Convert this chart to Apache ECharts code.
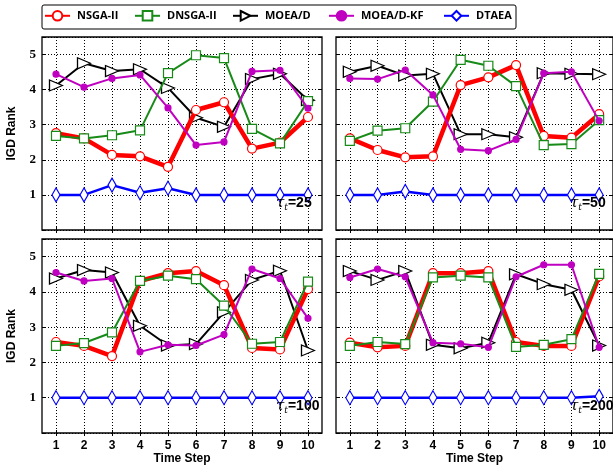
<!DOCTYPE html>
<html>
<head>
<meta charset="utf-8">
<script src="https://cdn.jsdelivr.net/npm/echarts@6/dist/echarts.min.js"></script>
<style>
  html, body { margin: 0; padding: 0; background: #fff; }
  #chart { width: 613px; height: 471px; }
</style>
</head>
<body>
<div id="chart"></div>
<script>
// 横轴：时间步
const timeSteps = ['1', '2', '3', '4', '5', '6', '7', '8', '9', '10']
const tauValues = ['25', '50', '100', '200']
const algoNames = ['NSGA-II', 'DNSGA-II', 'MOEA/D', 'MOEA/D-KF', 'DTAEA']

// tau_t = 25
const nsga2_25 = [2.76, 2.61, 2.14, 2.1, 1.8, 3.42, 3.64, 2.32, 2.49, 3.22]
const dnsga2_25 = [2.68, 2.61, 2.7, 2.84, 4.47, 4.98, 4.9, 2.88, 2.47, 3.67]
const moead_25 = [4.12, 4.75, 4.53, 4.58, 4.05, 3.2, 2.94, 4.3, 4.45, 3.7]
const moeadkf_25 = [4.44, 4.07, 4.32, 4.42, 3.48, 2.42, 2.51, 4.52, 4.55, 3.47]
const dtaea_25 = [1, 1, 1.28, 1.06, 1.19, 1, 1, 1, 1, 1]

// tau_t = 50
const nsga2_50 = [2.61, 2.28, 2.07, 2.1, 4.13, 4.35, 4.7, 2.68, 2.63, 3.3]
const dnsga2_50 = [2.54, 2.83, 2.9, 3.66, 4.85, 4.68, 4.1, 2.42, 2.45, 3.13]
const moead_50 = [4.51, 4.68, 4.4, 4.45, 2.73, 2.73, 2.64, 4.47, 4.45, 4.44]
const moeadkf_50 = [4.32, 4.3, 4.56, 3.85, 2.3, 2.26, 2.58, 4.47, 4.51, 3.11]
const dtaea_50 = [1, 1, 1.1, 1, 1, 1, 1, 1, 1, 1]

// tau_t = 100
const nsga2_100 = [2.58, 2.47, 2.18, 4.31, 4.53, 4.59, 4.19, 2.41, 2.37, 4.08]
const dnsga2_100 = [2.47, 2.55, 2.85, 4.31, 4.46, 4.36, 3.61, 2.53, 2.58, 4.29]
const moead_100 = [4.38, 4.62, 4.55, 3.04, 2.48, 2.52, 3.42, 4.34, 4.6, 2.34]
const moeadkf_100 = [4.55, 4.31, 4.38, 2.3, 2.5, 2.48, 2.79, 4.65, 4.38, 3.25]
const dtaea_100 = [1, 1, 1, 1, 1, 1, 1, 1, 1, 1]

// tau_t = 200
const nsga2_200 = [2.56, 2.43, 2.47, 4.53, 4.53, 4.59, 2.58, 2.47, 2.47, 4.44]
const dnsga2_200 = [2.47, 2.58, 2.52, 4.41, 4.46, 4.41, 2.44, 2.5, 2.66, 4.51]
const moead_200 = [4.59, 4.34, 4.59, 2.5, 2.4, 2.56, 4.5, 4.22, 4.06, 2.48]
const moeadkf_200 = [4.41, 4.65, 4.43, 2.56, 2.53, 2.43, 4.43, 4.77, 4.77, 2.43]
const dtaea_200 = [1, 1, 1, 1, 1, 1, 1, 1, 1, 1.04]

const panelData = [
  [nsga2_25, dnsga2_25, moead_25, moeadkf_25, dtaea_25],
  [nsga2_50, dnsga2_50, moead_50, moeadkf_50, dtaea_50],
  [nsga2_100, dnsga2_100, moead_100, moeadkf_100, dtaea_100],
  [nsga2_200, dnsga2_200, moead_200, moeadkf_200, dtaea_200]
]

// 各算法线型
const styles = [
  { color: '#ff0000', width: 4.5, symbol: 'circle', size: 9, fill: '#ffffff', z: 3 },
  { color: '#178a17', width: 2, symbol: 'rect', size: 9, fill: '#ffffff', z: 4 },
  { color: '#000000', width: 2, symbol: 'path://M0,0L12,5L0,10Z', size: [13, 11], fill: '#ffffff', z: 2 },
  { color: '#c000c0', width: 2, symbol: 'circle', size: 6, fill: '#c000c0', z: 5 },
  { color: '#0000ff', width: 2.5, symbol: 'diamond', size: [8, 14], fill: '#ffffff', z: 6 }
]

// 子图位置
const boxes = [
  { left: 42, top: 37, height: 193 },
  { left: 336, top: 37, height: 193 },
  { left: 42, top: 239, height: 194 },
  { left: 336, top: 239, height: 194 }
]

const dotted = { color: '#000', width: 1, type: [1, 2] }
const grids = []
const xAxes = []
const yAxes = []
const series = []
const graphics = []

boxes.forEach((b, i) => {
  const isBottom = i >= 2
  const isLeft = i % 2 === 0
  grids.push({
    left: b.left, top: b.top, width: 280, height: b.height,
    show: true, borderColor: '#000', borderWidth: 1.3
  })
  // 下方x轴
  xAxes.push({
    type: 'category', gridIndex: i, data: timeSteps, boundaryGap: true, position: 'bottom',
    axisLine: { show: false },
    axisTick: { show: true, inside: true, length: 3, alignWithLabel: true, lineStyle: { color: '#000' } },
    splitLine: { show: true, alignWithLabel: true, lineStyle: dotted },
    axisLabel: {
      show: isBottom, margin: 7, color: '#000', fontFamily: 'Liberation Sans', fontWeight: 'bold', fontSize: 12
    },
    name: isBottom ? 'Time Step' : '',
    nameLocation: 'middle', nameGap: 20,
    nameTextStyle: { color: '#000', fontFamily: 'Liberation Sans', fontWeight: 'bold', fontSize: 12 }
  })
  // 上方x轴（只画刻度）
  xAxes.push({
    type: 'category', gridIndex: i, data: timeSteps, boundaryGap: true, position: 'top',
    axisLine: { show: false },
    axisTick: { show: true, inside: true, length: 3, alignWithLabel: true, lineStyle: { color: '#000' } },
    splitLine: { show: false },
    axisLabel: { show: false }
  })
  yAxes.push({
    type: 'value', gridIndex: i, min: 0, max: 5.5, interval: 1, position: 'left',
    axisLine: { show: false },
    axisTick: { show: true, inside: true, length: 3, lineStyle: { color: '#000' } },
    splitLine: { show: true, lineStyle: dotted },
    axisLabel: {
      show: isLeft, margin: 6, color: '#000', fontFamily: 'Liberation Serif', fontWeight: 'bold', fontSize: 13,
      formatter: (v) => (v >= 1 && v <= 5 && v % 1 === 0 ? String(v) : '')
    },
    name: isLeft ? 'IGD Rank' : '',
    nameLocation: 'middle', nameGap: 24,
    nameTextStyle: { color: '#000', fontFamily: 'Liberation Sans', fontWeight: 'bold', fontSize: 12 }
  })
  yAxes.push({
    type: 'value', gridIndex: i, min: 0, max: 5.5, interval: 1, position: 'right',
    axisLine: { show: false },
    axisTick: { show: true, inside: true, length: 3, lineStyle: { color: '#000' } },
    splitLine: { show: false },
    axisLabel: { show: false }
  })

  panelData[i].forEach((vals, k) => {
    const s = styles[k]
    series.push({
      name: algoNames[k],
      type: 'line',
      xAxisIndex: i * 2,
      yAxisIndex: i * 2,
      data: vals,
      z: s.z,
      symbol: s.symbol,
      symbolSize: s.size,
      showAllSymbol: true,
      lineStyle: { color: s.color, width: s.width },
      itemStyle: { color: s.fill, borderColor: s.color, borderWidth: 1.2 },
      emphasis: { disabled: true },
      animation: false
    })
  })

  // tau_t 标注
  graphics.push({
    type: 'text',
    left: b.left + 234,
    top: b.top + (isBottom ? 160 : 159),
    style: {
      text: '{t|τ}{s|t}{e|=' + tauValues[i] + '}',
      rich: {
        t: { fontFamily: 'DejaVu Serif', fontStyle: 'italic', fontSize: 15, fill: '#000', lineHeight: 18 },
        s: { fontFamily: 'DejaVu Serif', fontStyle: 'italic', fontSize: 9, fill: '#000', verticalAlign: 'bottom', lineHeight: 14 },
        e: { fontFamily: 'Liberation Sans', fontWeight: 'bold', fontSize: 14, fill: '#000', lineHeight: 18 }
      }
    },
    z: 100
  })
})

// 图例外框
graphics.push({
  type: 'rect',
  shape: { x: 42, y: 5, width: 474, height: 24, r: 2 },
  style: { fill: '#fff', stroke: '#000', lineWidth: 1 },
  z: -1
})

// 每个图例单独定位
const legendLefts = [44, 134, 232, 328, 443]
const legends = algoNames.map((n, k) => ({
  data: [n],
  left: legendLefts[k],
  top: 10,
  padding: 0,
  itemWidth: 25,
  itemHeight: 12,
  itemGap: 0,
  selectedMode: false,
  textStyle: { color: '#000', fontFamily: 'Open Sans', fontWeight: 'bold', fontSize: 11, padding: [0, 0, 0, 2] }
}))

const chart = echarts.init(document.getElementById('chart'), null, { renderer: 'canvas' })
chart.setOption({
  animation: false,
  backgroundColor: '#fff',
  legend: legends,
  grid: grids,
  xAxis: xAxes,
  yAxis: yAxes,
  series: series,
  graphic: graphics
})
window.addEventListener('resize', function () {
  chart.resize()
})
</script>
</body>
</html>
